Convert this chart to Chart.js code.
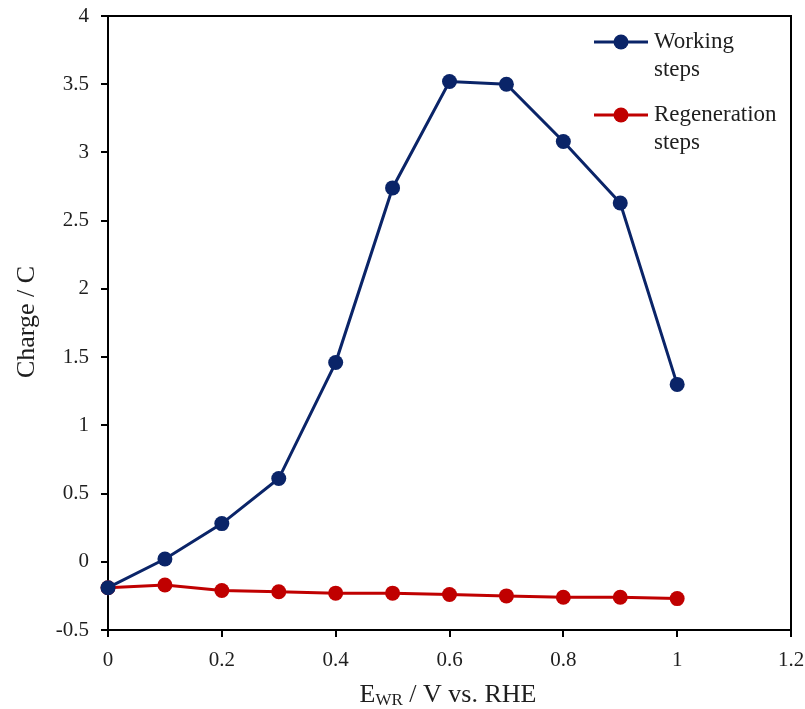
<!DOCTYPE html>
<html>
<head>
<meta charset="utf-8">
<script src="https://cdn.jsdelivr.net/npm/chart.js@4/dist/chart.umd.min.js"></script>
<style>
  html, body { margin: 0; padding: 0; background: #fff; }
  #wrap { width: 805px; height: 709px; }
</style>
</head>
<body>
<div id="wrap"><canvas id="chart"></canvas></div>
<script>
const potentials = [0, 0.1, 0.2, 0.3, 0.4, 0.5, 0.6, 0.7, 0.8, 0.9, 1.0];
const working = [-0.19, 0.02, 0.28, 0.61, 1.46, 2.74, 3.52, 3.50, 3.08, 2.63, 1.30];
const regeneration = [-0.19, -0.17, -0.21, -0.22, -0.23, -0.23, -0.24, -0.25, -0.26, -0.26, -0.27];
const seriesLabels = [["Working", "steps"], ["Regeneration", "steps"]];

const FONT = "'Liberation Serif', 'Times New Roman', serif";
const NAVY = "#0a2468";
const RED = "#c00000";
const TEXT = "#1e1e1e";

function points(values) {
  return potentials.map((x, i) => ({ x: x, y: values[i] }));
}

function plain(value) {
  return String(Math.round(value * 10) / 10);
}

// box, axis titles and the two-line legend
const decorations = {
  id: "decorations",
  afterDraw(chart) {
    const ctx = chart.ctx;
    const area = chart.chartArea;
    ctx.save();

    ctx.strokeStyle = "#000";
    ctx.lineWidth = 2;
    ctx.beginPath();
    ctx.moveTo(area.left, area.top);
    ctx.lineTo(area.right, area.top);
    ctx.lineTo(area.right, area.bottom);
    ctx.stroke();

    ctx.fillStyle = TEXT;
    ctx.font = "26px " + FONT;
    ctx.textBaseline = "middle";

    // y title
    ctx.save();
    ctx.translate(27, 322);
    ctx.rotate(-Math.PI / 2);
    ctx.textAlign = "center";
    ctx.fillText("Charge / C", 0, 0);
    ctx.restore();

    // x title with subscript
    const rest = " / V vs. RHE";
    ctx.textAlign = "left";
    const wE = ctx.measureText("E").width;
    ctx.font = "17px " + FONT;
    const wSub = ctx.measureText("WR").width;
    ctx.font = "26px " + FONT;
    const wRest = ctx.measureText(rest).width;
    let x = 448 - (wE + wSub + wRest) / 2;
    const y = 695;
    ctx.fillText("E", x, y);
    x += wE;
    ctx.font = "17px " + FONT;
    ctx.fillText("WR", x, y + 6);
    x += wSub;
    ctx.font = "26px " + FONT;
    ctx.fillText(rest, x, y);

    // legend
    const rows = [42, 115];
    chart.data.datasets.forEach((ds, i) => {
      const ly = rows[i];
      ctx.strokeStyle = ds.borderColor;
      ctx.lineWidth = 3;
      ctx.beginPath();
      ctx.moveTo(594, ly);
      ctx.lineTo(648, ly);
      ctx.stroke();
      ctx.fillStyle = ds.backgroundColor;
      ctx.beginPath();
      ctx.arc(621, ly, 7.5, 0, Math.PI * 2);
      ctx.fill();
      ctx.fillStyle = TEXT;
      ctx.font = "23px " + FONT;
      ds.label.forEach((line, j) => ctx.fillText(line, 654, ly + j * 28));
    });

    ctx.restore();
  }
};

new Chart(document.getElementById("chart").getContext("2d"), {
  type: "line",
  data: {
    datasets: [
      {
        label: seriesLabels[0],
        data: points(working),
        borderColor: NAVY,
        backgroundColor: NAVY,
        borderWidth: 3,
        pointRadius: 7.5,
        pointHoverRadius: 7.5,
        pointBorderWidth: 0,
        tension: 0,
        clip: false
      },
      {
        label: seriesLabels[1],
        data: points(regeneration),
        borderColor: RED,
        backgroundColor: RED,
        borderWidth: 3,
        pointRadius: 7.5,
        pointHoverRadius: 7.5,
        pointBorderWidth: 0,
        tension: 0,
        clip: false
      }
    ]
  },
  options: {
    responsive: true,
    maintainAspectRatio: false,
    animation: false,
    layout: { padding: { top: 16, right: 14, left: 0, bottom: 0 } },
    plugins: {
      legend: { display: false },
      title: { display: false },
      tooltip: { enabled: false }
    },
    scales: {
      x: {
        type: "linear",
        min: 0,
        max: 1.2,
        ticks: {
          stepSize: 0.2,
          color: TEXT,
          padding: 11,
          font: { family: FONT, size: 21 },
          callback: plain
        },
        grid: { drawOnChartArea: false, drawTicks: true, tickLength: 7, color: "#000", lineWidth: 2 },
        border: { display: true, color: "#000", width: 2 },
        afterFit(scale) {
          scale.height = 79;
          scale.paddingLeft = 0;
          scale.paddingRight = 0;
        }
      },
      y: {
        min: -0.5,
        max: 4,
        ticks: {
          stepSize: 0.5,
          color: TEXT,
          padding: 12,
          font: { family: FONT, size: 21 },
          callback: plain
        },
        grid: { drawOnChartArea: false, drawTicks: true, tickLength: 7, color: "#000", lineWidth: 2 },
        border: { display: true, color: "#000", width: 2 },
        afterFit(scale) {
          scale.width = 108;
          scale.paddingTop = 0;
          scale.paddingBottom = 0;
        }
      }
    }
  },
  plugins: [decorations]
});
</script>
</body>
</html>
